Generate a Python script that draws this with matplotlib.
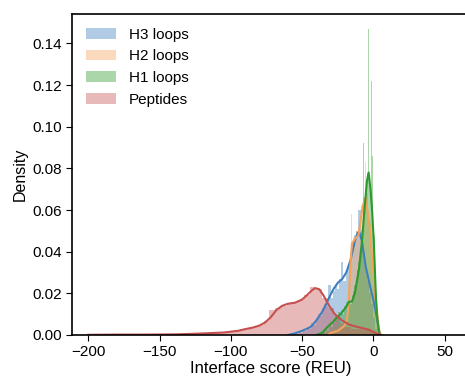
import numpy as np
import matplotlib
matplotlib.use("Agg")
import matplotlib.pyplot as plt

plt.rcParams["font.family"] = ["Liberation Sans", "DejaVu Sans"]

# ---------- data ----------
labels = ["H3 loops", "H2 loops", "H1 loops", "Peptides"]
colors = ["#3d7fc0", "#f5a25a", "#2c9a2c", "#c65050"]

# histogram bins: first left edge, bin width, densities
h3_start, h3_width = -57.0, 1.5
h3_hist = [0.0005, 0.001, 0.0005, 0.002, 0.001, 0.003, 0.002, 0.004, 0.003, 0.006,
           0.005, 0.008, 0.010, 0.009, 0.013, 0.015, 0.014, 0.024, 0.018, 0.021,
           0.024, 0.022, 0.027, 0.035, 0.026, 0.031, 0.033, 0.040, 0.044, 0.048,
           0.050, 0.060, 0.046, 0.040, 0.032, 0.026, 0.020, 0.015, 0.008, 0.003]

h2_start, h2_width = -30.0, 1.0
h2_hist = [0.001, 0.0, 0.002, 0.001, 0.002, 0.003, 0.002, 0.004, 0.003, 0.005,
           0.007, 0.010, 0.018, 0.030, 0.058, 0.040, 0.047, 0.044, 0.050, 0.046,
           0.052, 0.058, 0.061, 0.066, 0.083, 0.068, 0.060, 0.054, 0.045, 0.034,
           0.024, 0.014, 0.007, 0.003, 0.001]

h1_start, h1_width = -39.875, 0.95
h1_hist = [0.0, 0.0, 0.0, 0.001, 0.0, 0.002, 0.001, 0.003, 0.002, 0.004,
           0.005, 0.004, 0.007, 0.006, 0.009, 0.008, 0.011, 0.009, 0.012, 0.010,
           0.014, 0.012, 0.016, 0.013, 0.018, 0.015, 0.019, 0.021, 0.024, 0.027,
           0.031, 0.035, 0.041, 0.050, 0.092, 0.060, 0.070, 0.078, 0.147, 0.072,
           0.122, 0.086, 0.048, 0.025, 0.010, 0.004, 0.001]

pep_start, pep_width = -200.0, 4.1
pep_hist = [0.0001, 0.0001, 0.0002, 0.0001, 0.0001, 0.0002, 0.0001, 0.0002, 0.0002, 0.0001,
            0.0002, 0.0002, 0.0003, 0.0002, 0.0003, 0.0004, 0.0003, 0.0005, 0.0004, 0.0006,
            0.0006, 0.0008, 0.001, 0.0013, 0.0018, 0.0023, 0.0028, 0.0033, 0.004, 0.005,
            0.0065, 0.012, 0.013, 0.014, 0.015, 0.016, 0.017, 0.019, 0.023, 0.022,
            0.018, 0.013, 0.009, 0.006, 0.004, 0.003, 0.003, 0.0025, 0.002, 0.001]

# KDE curves
h3_kde_x = [-60, -55, -50, -45, -43, -40, -36, -33, -31, -28, -25, -21.7, -19, -16,
            -13, -11, -9.7, -8, -5.4, -1.8, 0, 1.7, 3, 4, 5]
h3_kde_y = [0.0, 0.0008, 0.002, 0.0035, 0.0045, 0.007, 0.011, 0.015, 0.018, 0.022,
            0.025, 0.027, 0.030, 0.036, 0.045, 0.049, 0.049, 0.045, 0.033, 0.022,
            0.017, 0.011, 0.006, 0.0015, 0.0]

h2_kde_x = [-32, -30, -25, -21, -19, -18, -17, -16, -15, -13, -10.4, -7.5, -5.4,
            -2.6, -0.4, 1.7, 3.8, 5]
h2_kde_y = [0.0, 0.001, 0.002, 0.004, 0.006, 0.010, 0.020, 0.035, 0.044, 0.046,
            0.048, 0.062, 0.066, 0.052, 0.033, 0.017, 0.003, 0.0]

h1_kde_x = [-40, -36, -32, -28, -26.6, -23, -19.6, -17, -15, -13, -11.5, -10, -8,
            -6, -4.5, -3.3, -2, -0.9, 0.3, 1, 1.7, 2.5, 3.5, 4.5]
h1_kde_y = [0.0, 0.001, 0.004, 0.0065, 0.0077, 0.010, 0.013, 0.016, 0.016, 0.020,
            0.026, 0.032, 0.045, 0.062, 0.074, 0.078, 0.070, 0.060, 0.045, 0.033,
            0.020, 0.010, 0.004, 0.0]

pep_kde_x = [-200, -180, -160, -140, -125, -115, -105, -100, -95, -90, -85, -80,
             -76, -72, -68, -64, -60, -55, -50, -46, -43, -41, -38, -35, -31, -27,
             -22, -17, -12, -7, -3, 0, 3, 6]
pep_kde_y = [0.0001, 0.0002, 0.0002, 0.0003, 0.0006, 0.0009, 0.0012, 0.0016, 0.002,
             0.0028, 0.0035, 0.0045, 0.006, 0.0085, 0.012, 0.014, 0.015, 0.0155,
             0.017, 0.0195, 0.0215, 0.0225, 0.022, 0.019, 0.014, 0.010, 0.007,
             0.005, 0.004, 0.0032, 0.0025, 0.0015, 0.0005, 0.0]

series = [
    (h3_start, h3_width, h3_hist, h3_kde_x, h3_kde_y),
    (h2_start, h2_width, h2_hist, h2_kde_x, h2_kde_y),
    (h1_start, h1_width, h1_hist, h1_kde_x, h1_kde_y),
    (pep_start, pep_width, pep_hist, pep_kde_x, pep_kde_y),
]

# ---------- plot ----------
fig = plt.figure(figsize=(4.65, 3.81), dpi=100)
# right spine sits just past the image edge, as in the reference crop
ax = fig.add_axes([72 / 465, 1 - 335 / 381, (470 - 72) / 465, (335 - 14) / 381])

for (start, width, heights, kx, ky), lab, c in zip(series, labels, colors):
    heights = np.asarray(heights)
    edges = start + width * np.arange(len(heights) + 1)
    centers = 0.5 * (edges[:-1] + edges[1:])
    ax.hist(centers, bins=edges, weights=heights, color=c, alpha=0.4, label=lab)
    ax.plot(kx, ky, color=c, lw=1.5)

ax.set_xlim(-211.4, 67.8)
ax.set_ylim(0, 0.1541)
ax.set_xticks([-200, -150, -100, -50, 0, 50])
ax.set_yticks(np.arange(0, 0.141, 0.02))
ax.yaxis.set_major_formatter(matplotlib.ticker.FormatStrFormatter("%.2f"))
ax.tick_params(labelsize=11, length=4, width=0.8)
for s in ax.spines.values():
    s.set_linewidth(1.2)

ax.set_xlabel("Interface score (REU)", fontsize=12, labelpad=1)
ax.set_ylabel("Density", fontsize=11.5, labelpad=3)
ax.legend(loc="upper left", frameon=False, fontsize=11, labelspacing=0.5)

fig.savefig("out.png", dpi=100)
